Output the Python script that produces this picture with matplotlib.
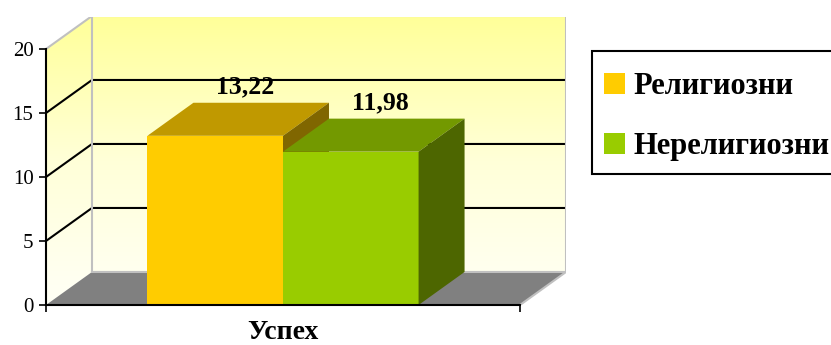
import numpy as np
import matplotlib.pyplot as plt
from matplotlib.patches import Polygon, Rectangle
from matplotlib.colors import LinearSegmentedColormap

plt.rcParams["font.family"] = ["Liberation Serif", "DejaVu Serif"]

category = "Успех"
series = ["Религиозни", "Нерелигиозни"]
values = [13.22, 11.98]
labels = ["13,22", "11,98"]

front_colors = ["#FFCC00", "#99CC00"]
top_colors = ["#C09900", "#739900"]
side_colors = ["#806600", "#4D6600"]

W, H = 831, 345
fig = plt.figure(figsize=(W / 100, H / 100), dpi=100)
fig.patch.set_facecolor("white")

# plot area: front plane from x=46..520 px, y=0 at 305 px, 12.8 px per unit
ax = fig.add_axes([46 / W, (H - 305) / H, 520 / W, 288 / H])
dx = 0.097   # depth offset along x (category units)
dy = 2.58    # depth offset along y (value units)
ymax = 20
ax.set_xlim(-0.5, 0.5 + dx)
ax.set_ylim(0, 22.5)
ax.patch.set_alpha(0)

# walls with a vertical gradient (white at bottom, pale yellow at top)
wall_cmap = LinearSegmentedColormap.from_list("wall", ["#FFFFF6", "#FFFFD8", "#FFFF99"])
grad = np.linspace(0, 1, 256).reshape(-1, 1)
img = ax.imshow(grad, cmap=wall_cmap, origin="lower", aspect="auto",
                extent=(-0.5, 0.5 + dx, 0, ymax + dy), zorder=0)
wall_path = Polygon([(-0.5, 0), (-0.5 + dx, dy), (0.5 + dx, dy), (0.5 + dx, ymax + dy),
                     (-0.5 + dx, ymax + dy), (-0.5, ymax)], closed=True,
                    facecolor="none", edgecolor="none", transform=ax.transData)
ax.add_patch(wall_path)
img.set_clip_path(wall_path)

# gridlines on side and back walls
for v in [5, 10, 15]:
    ax.plot([-0.5, -0.5 + dx, 0.5 + dx], [v, v + dy, v + dy], color="black", lw=1.5, zorder=1)

# wall edges
edge = dict(color="#C0C0C0", lw=1.5, zorder=1)
ax.plot([-0.5, -0.5 + dx, 0.5 + dx, 0.5 + dx], [ymax, ymax + dy, ymax + dy, dy], **edge)
ax.plot([-0.5 + dx, -0.5 + dx], [dy, ymax + dy], **edge)

# floor
ax.add_patch(Polygon([(-0.5, 0), (0.5, 0), (0.5 + dx, dy), (-0.5 + dx, dy)],
                     closed=True, facecolor="#808080", edgecolor="none", zorder=2))
ax.plot([-0.5 + dx, 0.5 + dx, 0.5], [dy, dy, 0], **{**edge, "zorder": 2})

# 3d bars
w = 0.286
gap = (1 - len(values) * w) / 2
for i, v in enumerate(values):
    x0 = -0.5 + gap + i * w
    z = 3 + i
    ax.add_patch(Rectangle((x0, 0), w, v, facecolor=front_colors[i], edgecolor="none", zorder=z))
    ax.add_patch(Polygon([(x0, v), (x0 + w, v), (x0 + w + dx, v + dy), (x0 + dx, v + dy)],
                         closed=True, facecolor=top_colors[i], edgecolor="none", zorder=z))
    ax.add_patch(Polygon([(x0 + w, 0), (x0 + w + dx, dy), (x0 + w + dx, v + dy), (x0 + w, v)],
                         closed=True, facecolor=side_colors[i], edgecolor="none", zorder=z))
    ax.annotate(labels[i], (x0 + w / 2 + 0.65 * dx, v + dy), xytext=(0, 3),
                textcoords="offset points", ha="center", va="bottom",
                fontsize=18.5, fontweight="bold", zorder=10)

# axes
for s in ["top", "right"]:
    ax.spines[s].set_visible(False)
ax.spines["left"].set_bounds(0, ymax)
ax.spines["bottom"].set_bounds(-0.5, 0.5)
for s in ["left", "bottom"]:
    ax.spines[s].set_linewidth(1.5)
    ax.spines[s].set_zorder(8)
ax.set_yticks(range(0, ymax + 1, 5))
ax.tick_params(axis="y", direction="out", length=5, width=1.2, pad=4, labelsize=15)
ax.set_xticks([-0.5, 0.5])
ax.set_xticklabels(["", ""])
ax.set_xticks([0], [category], minor=True)
ax.tick_params(axis="x", which="major", direction="out", length=5, width=1.2)
ax.tick_params(axis="x", which="minor", length=0, pad=11, labelsize=20)
for t in ax.get_xticklabels(minor=True):
    t.set_fontweight("bold")

# legend box
fig.add_artist(Rectangle((592 / W, (H - 174) / H), 300 / W, 123 / H, transform=fig.transFigure,
                         facecolor="white", edgecolor="black", lw=1.5))
for i, name in enumerate(series):
    yc = 83 + i * 60
    fig.add_artist(Rectangle((604 / W, (H - yc - 10.5) / H), 21 / W, 21 / H,
                             transform=fig.transFigure, facecolor=front_colors[i], edgecolor="none"))
    fig.text(633 / W, (H - yc) / H, name, fontsize=22, fontweight="bold", va="center_baseline")

fig.savefig("out.png", dpi=100)
